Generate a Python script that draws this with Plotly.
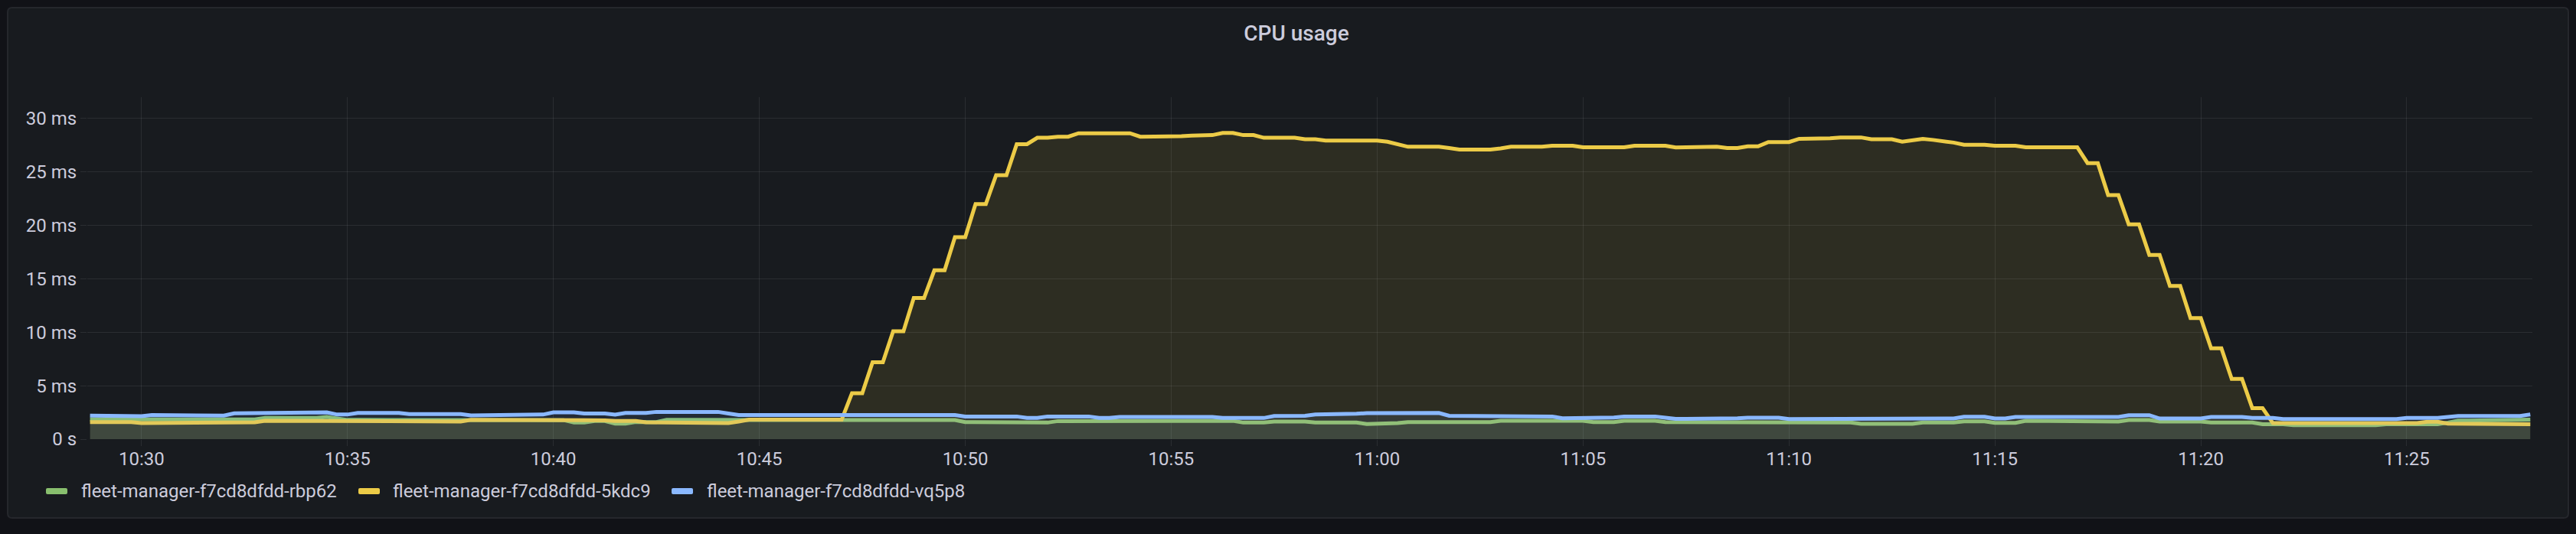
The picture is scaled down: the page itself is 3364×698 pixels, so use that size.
import plotly.graph_objects as go
import pandas as pd

TITLE = "CPU usage"
SERIES_NAMES = [
    "fleet-manager-f7cd8dfdd-rbp62",
    "fleet-manager-f7cd8dfdd-5kdc9",
    "fleet-manager-f7cd8dfdd-vq5p8",
]
SERIES_COLORS = ["#88BF6E", "#ECCB47", "#8AB8FF"]

START = "2024-01-01 10:28:45"
STEP = "15s"
X_RANGE = ["2024-01-01 10:28:41", "2024-01-01 11:28:03"]
X_TICK0 = "2024-01-01 10:30:00"

# CPU usage in milliseconds, one sample every 15 s
rbp62 = [
    1.85, 1.85, 1.85, 1.85, 1.85, 1.88, 1.88, 1.88, 1.85, 1.85, 1.85, 1.85, 1.85, 1.85, 1.85, 1.85, 1.85, 1.98, 1.98, 1.98,
    1.98, 1.98, 1.98, 2.07, 1.95, 1.8, 1.8, 1.8, 1.8, 1.8, 1.8, 1.8, 1.8, 1.8, 1.8, 1.8, 1.8, 1.78, 1.78, 1.78,
    1.78, 1.78, 1.78, 1.78, 1.78, 1.78, 1.78, 1.55, 1.55, 1.7, 1.7, 1.45, 1.45, 1.6, 1.6, 1.6, 1.8, 1.8, 1.8, 1.8,
    1.8, 1.8, 1.8, 1.71, 1.71, 1.71, 1.71, 1.71, 1.71, 1.71, 1.71, 1.71, 1.71, 1.71, 1.79, 1.79, 1.79, 1.79, 1.79, 1.79,
    1.79, 1.79, 1.79, 1.79, 1.79, 1.6, 1.6, 1.6, 1.6, 1.6, 1.6, 1.55, 1.55, 1.55, 1.69, 1.69, 1.69, 1.69, 1.65, 1.65,
    1.71, 1.71, 1.71, 1.71, 1.71, 1.71, 1.71, 1.71, 1.71, 1.71, 1.71, 1.71, 1.55, 1.55, 1.55, 1.64, 1.64, 1.64, 1.64, 1.55,
    1.55, 1.55, 1.55, 1.55, 1.42, 1.42, 1.42, 1.5, 1.6, 1.6, 1.6, 1.6, 1.6, 1.6, 1.6, 1.6, 1.6, 1.71, 1.71, 1.71,
    1.71, 1.71, 1.71, 1.71, 1.71, 1.71, 1.6, 1.6, 1.6, 1.71, 1.71, 1.71, 1.71, 1.6, 1.6, 1.6, 1.6, 1.6, 1.6, 1.6,
    1.6, 1.55, 1.55, 1.55, 1.55, 1.55, 1.55, 1.55, 1.55, 1.55, 1.55, 1.55, 1.43, 1.43, 1.43, 1.43, 1.43, 1.43, 1.55, 1.55,
    1.55, 1.55, 1.67, 1.67, 1.67, 1.52, 1.52, 1.52, 1.71, 1.71, 1.71, 1.64, 1.64, 1.64, 1.64, 1.64, 1.64, 1.64, 1.79, 1.79,
    1.79, 1.64, 1.64, 1.64, 1.64, 1.64, 1.55, 1.55, 1.55, 1.55, 1.55, 1.4, 1.4, 1.4, 1.31, 1.31, 1.31, 1.31, 1.31, 1.31,
    1.31, 1.31, 1.31, 1.4, 1.4, 1.4, 1.4, 1.4, 1.4, 1.55, 1.74, 1.74, 1.74, 1.74, 1.74, 1.74, 1.83, 1.83,
]

kdc9 = [
    1.6, 1.6, 1.6, 1.6, 1.6, 1.5, 1.5, 1.5, 1.57, 1.57, 1.57, 1.57, 1.57, 1.57, 1.57, 1.57, 1.57, 1.72, 1.72, 1.72,
    1.72, 1.72, 1.72, 1.72, 1.72, 1.65, 1.65, 1.65, 1.65, 1.65, 1.65, 1.65, 1.65, 1.65, 1.65, 1.65, 1.65, 1.8, 1.8, 1.8,
    1.8, 1.8, 1.8, 1.8, 1.8, 1.8, 1.8, 1.76, 1.76, 1.76, 1.76, 1.7, 1.7, 1.7, 1.57, 1.57, 1.57, 1.57, 1.5, 1.5,
    1.5, 1.5, 1.5, 1.65, 1.82, 1.82, 1.82, 1.82, 1.82, 1.82, 1.82, 1.82, 1.82, 1.82, 4.3, 4.3, 7.2, 7.2, 10.1, 10.1,
    13.2, 13.2, 15.8, 15.8, 18.9, 18.9, 22.0, 22.0, 24.7, 24.7, 27.6, 27.6, 28.2, 28.2, 28.3, 28.3, 28.62, 28.62, 28.62, 28.62,
    28.62, 28.62, 28.3, 28.3, 28.3, 28.3, 28.35, 28.4, 28.4, 28.45, 28.65, 28.65, 28.45, 28.45, 28.2, 28.2, 28.2, 28.2, 28.06, 28.06,
    27.94, 27.94, 28.0, 28.0, 28.0, 27.94, 27.83, 27.6, 27.36, 27.36, 27.36, 27.36, 27.24, 27.1, 27.1, 27.1, 27.1, 27.2, 27.36, 27.36,
    27.36, 27.36, 27.45, 27.45, 27.45, 27.31, 27.31, 27.31, 27.31, 27.31, 27.45, 27.45, 27.45, 27.45, 27.29, 27.29, 27.36, 27.36, 27.36, 27.24,
    27.24, 27.4, 27.4, 27.8, 27.8, 27.8, 28.1, 28.1, 28.1, 28.15, 28.23, 28.23, 28.23, 28.06, 28.06, 28.06, 27.83, 27.95, 28.1, 28.0,
    27.9, 27.75, 27.55, 27.55, 27.55, 27.45, 27.45, 27.45, 27.31, 27.31, 27.31, 27.31, 27.31, 27.31, 25.83, 25.83, 22.83, 22.83, 20.1, 20.1,
    17.24, 17.24, 14.33, 14.33, 11.33, 11.33, 8.5, 8.5, 5.64, 5.64, 2.9, 2.9, 1.5, 1.5, 1.5, 1.5, 1.5, 1.5, 1.5, 1.5,
    1.5, 1.5, 1.5, 1.5, 1.5, 1.5, 1.5, 1.62, 1.62, 1.45, 1.45, 1.45, 1.45, 1.45, 1.45, 1.45, 1.45, 1.4,
]

vq5p8 = [
    2.2, 2.2, 2.2, 2.2, 2.2, 2.15, 2.25, 2.25, 2.25, 2.2, 2.2, 2.2, 2.2, 2.2, 2.42, 2.42, 2.42, 2.42, 2.42, 2.42,
    2.42, 2.42, 2.42, 2.5, 2.3, 2.3, 2.45, 2.45, 2.45, 2.45, 2.45, 2.35, 2.35, 2.35, 2.35, 2.35, 2.35, 2.22, 2.22, 2.22,
    2.22, 2.22, 2.3, 2.3, 2.3, 2.5, 2.5, 2.5, 2.4, 2.4, 2.4, 2.3, 2.45, 2.45, 2.45, 2.55, 2.55, 2.55, 2.55, 2.55,
    2.55, 2.55, 2.4, 2.25, 2.25, 2.25, 2.25, 2.25, 2.25, 2.25, 2.25, 2.25, 2.25, 2.25, 2.25, 2.25, 2.3, 2.3, 2.25, 2.25,
    2.3, 2.3, 2.25, 2.25, 2.25, 2.12, 2.12, 2.12, 2.12, 2.12, 2.12, 1.98, 1.98, 2.12, 2.12, 2.12, 2.12, 2.12, 1.98, 1.98,
    2.07, 2.07, 2.07, 2.07, 2.07, 2.07, 2.07, 2.07, 2.07, 2.07, 1.98, 1.98, 1.98, 1.98, 1.98, 2.17, 2.17, 2.17, 2.19, 2.31,
    2.31, 2.31, 2.31, 2.38, 2.43, 2.43, 2.43, 2.43, 2.38, 2.45, 2.45, 2.45, 2.19, 2.19, 2.19, 2.19, 2.19, 2.19, 2.19, 2.12,
    2.12, 2.12, 2.12, 1.95, 1.95, 2.02, 2.02, 2.02, 2.02, 2.12, 2.12, 2.12, 2.12, 2.0, 1.9, 1.9, 1.9, 1.9, 1.9, 1.9,
    1.95, 2.0, 2.0, 2.0, 2.0, 1.88, 1.88, 1.88, 1.95, 1.95, 1.95, 1.95, 1.95, 1.95, 1.95, 1.95, 1.95, 1.95, 1.93, 1.93,
    1.93, 1.93, 2.1, 2.1, 2.1, 1.93, 1.93, 2.07, 2.07, 2.07, 2.07, 2.07, 2.07, 2.07, 2.07, 2.07, 2.07, 2.07, 2.24, 2.24,
    2.24, 1.93, 1.93, 1.93, 1.93, 1.93, 2.07, 2.07, 2.07, 2.07, 1.98, 1.98, 1.98, 1.88, 1.88, 1.88, 1.88, 1.88, 1.88, 1.88,
    1.88, 1.88, 1.88, 1.88, 1.88, 1.98, 1.98, 1.98, 1.98, 2.07, 2.17, 2.17, 2.17, 2.17, 2.17, 2.17, 2.17, 2.31,
]

Y_TICKS = [0, 5, 10, 15, 20, 25, 30]
Y_TICK_LABELS = ["0 s", "5 ms", "10 ms", "15 ms", "20 ms", "25 ms", "30 ms"]
Y_RANGE = [0, 32]

SERIES_VALUES = [rbp62, kdc9, vq5p8]
assert len(rbp62) == len(kdc9) == len(vq5p8) == 238, (len(rbp62), len(kdc9), len(vq5p8))

# ---------------- layout geometry (pixels) ----------------
W, H = 3364, 698
ML, MR, MT, MB = 114, 57, 127, 124
PW, PH = W - ML - MR, H - MT - MB

PAGE_BG = "#111217"
PANEL_BG = "#181b1f"
PANEL_BORDER = "#25272c"
TEXT = "#ccccdc"
GRID = "rgba(204,204,220,0.10)"
FONT = "Roboto"


def xp(px):
    return (px - ML) / PW


def yp(py):
    return (H - MB - py) / PH


def rgba(hex_color, a):
    h = hex_color.lstrip("#")
    r, g, b = int(h[0:2], 16), int(h[2:4], 16), int(h[4:6], 16)
    return f"rgba({r},{g},{b},{a})"


def rounded_rect(x0, y0, x1, y1, r):
    return (
        f"M{xp(x0 + r)},{yp(y0)} L{xp(x1 - r)},{yp(y0)} Q{xp(x1)},{yp(y0)} {xp(x1)},{yp(y0 + r)} "
        f"L{xp(x1)},{yp(y1 - r)} Q{xp(x1)},{yp(y1)} {xp(x1 - r)},{yp(y1)} "
        f"L{xp(x0 + r)},{yp(y1)} Q{xp(x0)},{yp(y1)} {xp(x0)},{yp(y1 - r)} "
        f"L{xp(x0)},{yp(y0 + r)} Q{xp(x0)},{yp(y0)} {xp(x0 + r)},{yp(y0)} Z"
    )


times = pd.date_range(START, periods=len(kdc9), freq=STEP)

fig = go.Figure()
for name, color, vals in zip(SERIES_NAMES, SERIES_COLORS, SERIES_VALUES):
    fig.add_trace(
        go.Scatter(
            x=times,
            y=vals,
            name=name,
            mode="lines",
            line=dict(color=color, width=5, shape="linear"),
            fill="tozeroy",
            fillcolor=rgba(color, 0.1),
            showlegend=False,
            hoverinfo="skip",
        )
    )

shapes = [
    dict(
        type="path",
        xref="paper",
        yref="paper",
        path=rounded_rect(10, 10, 3354, 677, 6),
        fillcolor=PANEL_BG,
        line=dict(color=PANEL_BORDER, width=2),
        layer="below",
    )
]

# legend (custom, Grafana style)
LEG_Y = 642
LEG_SWATCH_X = [60, 468, 877]
LEG_TEXT_X = [104, 511, 921]
annotations = []
for name, color, sx, tx in zip(SERIES_NAMES, SERIES_COLORS, LEG_SWATCH_X, LEG_TEXT_X):
    shapes.append(
        dict(
            type="path",
            xref="paper",
            yref="paper",
            path=rounded_rect(sx, LEG_Y - 4, sx + 28, LEG_Y + 4, 2),
            fillcolor=color,
            line=dict(width=0),
        )
    )
    annotations.append(
        dict(
            text=name,
            xref="paper",
            yref="paper",
            x=xp(tx),
            y=yp(LEG_Y),
            xanchor="left",
            yanchor="middle",
            showarrow=False,
            font=dict(family=FONT, size=24, color=TEXT),
        )
    )

fig.update_layout(
    width=W,
    height=H,
    margin=dict(l=ML, r=MR, t=MT, b=MB, pad=0),
    paper_bgcolor=PAGE_BG,
    plot_bgcolor=PANEL_BG,
    font=dict(family=FONT, size=24, color=TEXT),
    showlegend=False,
    hovermode=False,
    title=dict(
        text=TITLE,
        x=1693 / W,
        xref="container",
        xanchor="center",
        y=1 - 43 / H,
        yref="container",
        yanchor="middle",
        font=dict(family=FONT, size=28, color=TEXT, weight=500),
    ),
    shapes=shapes,
    annotations=annotations,
)

fig.update_xaxes(
    type="date",
    range=X_RANGE,
    tick0=X_TICK0,
    dtick=300000,
    tickformat="%H:%M",
    showgrid=True,
    gridcolor=GRID,
    gridwidth=1,
    ticks="outside",
    ticklen=8,
    tickcolor=GRID,
    tickwidth=1,
    ticklabelstandoff=-4,
    showline=False,
    zeroline=False,
    tickfont=dict(family=FONT, size=24, color=TEXT),
    fixedrange=True,
)
fig.update_yaxes(
    range=Y_RANGE,
    tickvals=Y_TICKS,
    ticktext=Y_TICK_LABELS,
    showgrid=True,
    gridcolor=GRID,
    gridwidth=1,
    ticks="outside",
    ticklen=8,
    tickcolor=GRID,
    tickwidth=1,
    showline=False,
    zeroline=False,
    tickfont=dict(family=FONT, size=24, color=TEXT),
    fixedrange=True,
)

fig.write_html(
    "out.html",
    config={"displayModeBar": False},
    post_script="document.body.style.margin='0';document.body.style.overflow='hidden';",
)
